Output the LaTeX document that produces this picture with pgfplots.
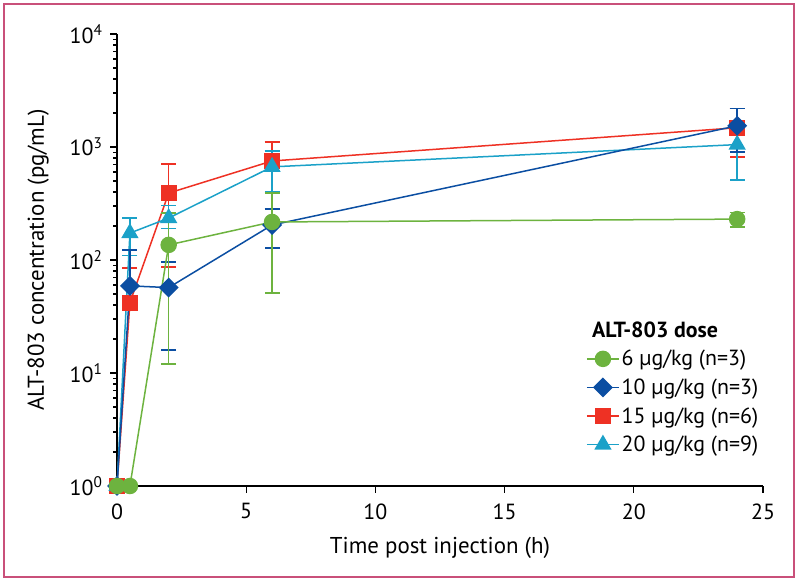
\documentclass[border=0pt]{standalone}
\usepackage{fontspec}
\setmainfont{PT Sans}
\usepackage{pgfplots}
\pgfplotsset{compat=1.18}
\definecolor{cgreen}{HTML}{6DB33F}
\definecolor{cblue}{HTML}{0B4EA2}
\definecolor{cred}{HTML}{EE3124}
\definecolor{ccyan}{HTML}{1BA1C8}
\definecolor{cframe}{HTML}{C9507A}
\pgfplotsset{
  ser/.style={#1, line width=1.5bp,
    error bars/y dir=both, error bars/y explicit,
    error bars/error bar style={#1, line width=1.5bp, solid},
    error bars/error mark options={#1, rotate=90, mark size=7.5bp, line width=1.5bp}},
}
\begin{document}
\begin{tikzpicture}[x=1bp,y=1bp]
\path (0,0) rectangle (800,581);
\draw[cframe, line width=1.5bp] (4,4) rectangle (794,577);
\begin{axis}[at={(117bp,95bp)}, anchor=south west,
  width=646bp, height=452bp, scale only axis,
  xmin=0, xmax=25, ymin=1, ymax=10000, ymode=log,
  axis lines=left, axis line style={-, line width=1.3bp},
  xtick={0,5,10,15,20,25},
  ytick={1,10,100,1000,10000},
  yticklabels={10\textsuperscript{0},10\textsuperscript{1},10\textsuperscript{2},10\textsuperscript{3},10\textsuperscript{4}},
  minor ytick={2,3,4,5,6,7,8,9,20,30,40,50,60,70,80,90,200,300,400,500,600,700,800,900,2000,3000,4000,5000,6000,7000,8000,9000},
  tick align=outside, major tick length=7bp, minor tick length=4bp,
  every tick/.style={black, line width=1.2bp},
  tick label style={font=\fontsize{22}{24}\selectfont},
  xticklabel style={yshift=-7bp},
  yticklabel style={xshift=-4bp},
  /pgf/number format/assume math mode=true,
  xlabel={Time post injection (h)},
  ylabel={ALT-803 concentration (pg/mL)},
  label style={font=\fontsize{23}{26}\selectfont},
  xlabel style={at={(axis description cs:0.5,-0.137)}, anchor=center},
  ylabel style={at={(axis description cs:-0.122,0.5)}, anchor=center},
  clip=false,
  legend style={at={(0.726,0.305)}, anchor=north west, draw=none, fill=none,
    inner sep=0pt, row sep=7.5bp, font=\fontsize{22}{24}\selectfont,
    cells={anchor=west}},
  legend image code/.code={\draw[mark repeat=2,mark phase=2,#1] plot coordinates {(0bp,0bp) (16bp,0bp) (32bp,0bp)};},
]
\addplot[ser=cred, mark=square*, mark size=7.3bp, forget plot] table[x=x,y=y,y error plus=ep,y error minus=em]{
x y ep em
0 1 0 0
0.5 42 43 0
2 391 315 304
6 752 355 360
24 1480 700 665
};
\addplot[ser=ccyan, mark=triangle*, mark size=8.5bp, forget plot] table[x=x,y=y,y error plus=ep,y error minus=em]{
x y ep em
0 1 0 0
0.5 173 62 63
2 235 70 45
6 667 255 265
24 1050 540 540
};
\addplot[ser=cblue, mark=square*, mark size=6.3bp, mark options={rotate=45}, forget plot] table[x=x,y=y,y error plus=ep,y error minus=em]{
x y ep em
0 1 0 0
0.5 59 64 0
2 57 39 41
6 204 80 76
24 1540 640 640
};
\addplot[ser=cgreen, mark=*, mark size=7.5bp, forget plot] table[x=x,y=y,y error plus=ep,y error minus=em]{
x y ep em
0 1 0 0
0.5 1 0 0
2 136 124 124
6 217 175 166
24 230 34 34
};
\addlegendimage{cgreen, line width=1.5bp, mark=*, mark size=7.5bp}
\addlegendentry{6 µg/kg (n=3)}
\addlegendimage{cblue, line width=1.5bp, mark=square*, mark size=6.3bp, mark options={rotate=45}}
\addlegendentry{10 µg/kg (n=3)}
\addlegendimage{cred, line width=1.5bp, mark=square*, mark size=7.3bp}
\addlegendentry{15 µg/kg (n=6)}
\addlegendimage{ccyan, line width=1.5bp, mark=triangle*, mark size=8.5bp}
\addlegendentry{20 µg/kg (n=9)}
\node[anchor=west, font=\fontsize{22}{24}\selectfont\bfseries, inner sep=0pt] at (rel axis cs:0.735,0.345) {ALT-803 dose};
\end{axis}
\end{tikzpicture}
\end{document}
